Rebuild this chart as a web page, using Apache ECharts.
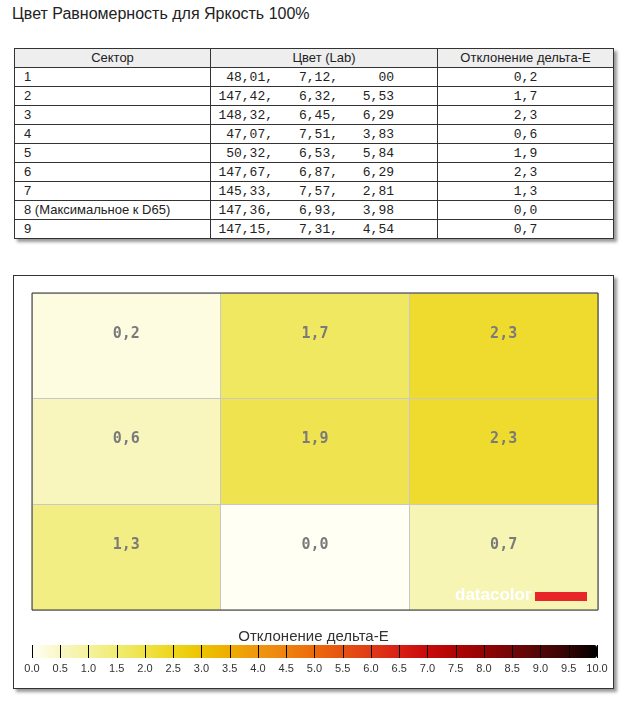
<!DOCTYPE html>
<html>
<head>
<meta charset="utf-8">
<script src="https://cdn.jsdelivr.net/npm/echarts@6/dist/echarts.min.js"></script>
<style>
  body { margin: 0; background: #fff; width: 627px; height: 701px; position: relative; overflow: hidden; }
  #title { position: absolute; left: 12px; top: 5px; font: 16px "Liberation Sans", Arial, sans-serif; color: #222; }
  #tbl { position: absolute; left: 14px; top: 48px; width: 600px; border-collapse: collapse;
         font: 13px "Liberation Sans", Arial, sans-serif; color: #222; box-shadow: 3px 3px 3px #999; }
  #tbl th, #tbl td { border: 1px solid #333; height: 18px; padding: 0; line-height: 18px; }
  #tbl th { background: #eeeeee; font-weight: normal; }
  #tbl td.sec { padding-left: 9px; }
  #tbl td.lab, #tbl td.de { font: 13px "Liberation Mono", monospace; }
  #tbl td.de { text-align: center; }
  #tbl td.lab span { display: inline-block; text-align: right; }
  #box { position: absolute; left: 13px; top: 275px; width: 599px; height: 412px; border: 1px solid #333;
         background: #fff; box-shadow: 3px 3px 3px #999; }
  #main { position: absolute; left: 0; top: 0; width: 627px; height: 701px; }
</style>
</head>
<body>
<div id="title">Цвет Равномерность для Яркость 100%</div>
<table id="tbl">
  <thead><tr><th style="width:195px">Сектор</th><th style="width:226px">Цвет (Lab)</th><th>Отклонение дельта-Е</th></tr></thead>
  <tbody id="rows"></tbody>
</table>
<div id="box"></div>
<div id="main"></div>
<script>
// table data
var sectors = ['1', '2', '3', '4', '5', '6', '7', '8 (Максимальное к D65)', '9'];
var labL = ['48,01', '147,42', '148,32', '47,07', '50,32', '147,67', '145,33', '147,36', '147,15'];
var labA = ['7,12', '6,32', '6,45', '7,51', '6,53', '6,87', '7,57', '6,93', '7,31'];
var labB = ['00', '5,53', '6,29', '3,83', '5,84', '6,29', '2,81', '3,98', '4,54'];
var deltaE = [0.2, 1.7, 2.3, 0.6, 1.9, 2.3, 1.3, 0.0, 0.7];

// heatmap grid (3 x 3 sectors)
var gridCols = ['1', '2', '3'];
var gridRows = ['1', '2', '3'];

// colour scale 0..10
var scaleMin = 0, scaleMax = 10, scaleStep = 0.5;
var scaleColors = ['#fffff4', '#f9f7c4', '#f5f29c', '#f1ec72', '#eee246', '#eed61c', '#edc300',
  '#eeac00', '#ee9710', '#ee8210', '#ec6a0a', '#e65212', '#e03a16', '#d82016', '#c80a0a',
  '#b00404', '#920404', '#720606', '#520606', '#320404', '#000000'];

function comma(v) { return v.toFixed(1).replace('.', ','); }

var tb = document.getElementById('rows');
sectors.forEach(function (s, i) {
  var tr = document.createElement('tr');
  tr.innerHTML = '<td class="sec">' + s + '</td>' +
    '<td class="lab"><span style="width:62px">' + labL[i] + ',</span>' +
    '<span style="width:65px">' + labA[i] + ',</span>' +
    '<span style="width:56px">' + labB[i] + '</span></td>' +
    '<td class="de">' + comma(deltaE[i]) + '</td>';
  tb.appendChild(tr);
});

var cells = deltaE.map(function (v, i) {
  return [i % 3, Math.floor(i / 3), v];
});

var myChart = echarts.init(document.getElementById('main'));

var option = {
  animation: false,
  title: {
    text: 'Отклонение дельта-Е',
    left: 'center',
    top: 624,
    textStyle: { fontFamily: 'Liberation Sans', fontSize: 15, fontWeight: 'normal', color: '#333' }
  },
  grid: [
    { left: 32, top: 293, width: 566, height: 317, show: true, borderColor: '#333', borderWidth: 1, z: 10 },
    { left: 32, top: 645, width: 565, height: 13 }
  ],
  xAxis: [
    {
      type: 'category', data: gridCols, gridIndex: 0, z: 5,
      axisLine: { show: false }, axisTick: { show: false }, axisLabel: { show: false },
      splitLine: { show: true, lineStyle: { color: '#c8c8c8' } }
    },
    {
      type: 'value', gridIndex: 1, min: scaleMin, max: scaleMax, interval: scaleStep, z: 10,
      axisLine: { show: false },
      axisTick: { show: true, inside: true, length: 13, lineStyle: { color: '#000', width: 1 } },
      axisLabel: {
        formatter: function (v) { return v.toFixed(1); }, fontSize: 11, color: '#333',
        fontFamily: 'Liberation Sans', margin: 5, showMinLabel: true, showMaxLabel: true
      },
      splitLine: { show: false }
    }
  ],
  yAxis: [
    {
      type: 'category', data: gridRows, gridIndex: 0, inverse: true, z: 5,
      axisLine: { show: false }, axisTick: { show: false }, axisLabel: { show: false },
      splitLine: { show: true, lineStyle: { color: '#c8c8c8' } }
    },
    { type: 'value', gridIndex: 1, min: 0, max: 1, show: false }
  ],
  visualMap: {
    type: 'continuous', min: scaleMin, max: scaleMax, seriesIndex: 0,
    orient: 'horizontal', left: 32, top: 645, itemWidth: 13, itemHeight: 565,
    padding: 0, calculable: false, hoverLink: false, text: null,
    inRange: { color: scaleColors }
  },
  graphic: [
    { type: 'text', left: 455, top: 587, z: 20, silent: true,
      style: { text: 'datacolor', fill: '#ffffff', font: 'bold 17px "Liberation Sans"' } },
    { type: 'rect', left: 535, top: 592, z: 20, silent: true,
      shape: { width: 52, height: 9 }, style: { fill: '#e8262a' } }
  ],
  series: [
    {
      type: 'heatmap', xAxisIndex: 0, yAxisIndex: 0, data: cells,
      label: {
        show: true, offset: [0, -12],
        formatter: function (p) { return comma(p.value[2]); },
        fontFamily: 'DejaVu Sans Mono', fontWeight: 'bold', fontSize: 15, color: '#7a7a7a'
      },
      emphasis: { disabled: true }
    }
  ]
};

myChart.setOption(option);
</script>
</body>
</html>
